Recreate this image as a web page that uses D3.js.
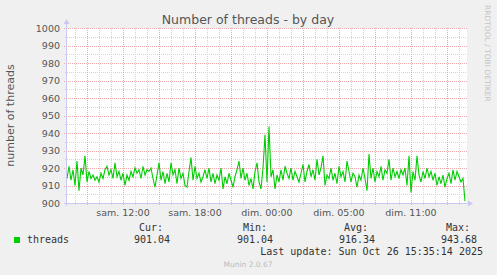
<!DOCTYPE html>
<html>
<head>
<meta charset="utf-8">
<script src="https://cdn.jsdelivr.net/npm/d3@7"></script>
<style>
  html, body { margin: 0; padding: 0; background: #f0f0f0; }
  svg { display: block; }
  text { font-family: "DejaVu Sans", sans-serif; }
  .mono { font-family: "DejaVu Sans Mono", monospace; font-size: 10px; fill: #333; }
</style>
</head>
<body>
<svg id="chart" width="497" height="275" viewBox="0 0 497 275"></svg>
<script>
// Samples every 10 minutes, starting Sat 25 Oct 2025 05:20 UTC
const startTime = Date.UTC(2025, 9, 25, 5, 20);
const endTime = Date.UTC(2025, 9, 26, 14, 40);
const threads = [
  914, 921, 913, 919, 910, 924, 907, 920, 916, 927,
  912, 918, 914, 916, 913, 915, 912, 917, 914, 919,
  921, 916, 919, 914, 923, 915, 918, 913, 917, 910,
  916, 913, 918, 915, 920, 917, 919, 914, 921, 916,
  919, 918, 920, 914, 909, 916, 923, 913, 918, 911,
  917, 912, 923, 916, 919, 911, 920, 914, 917, 910,
  909, 918, 926, 913, 921, 914, 917, 912, 915, 919,
  914, 920, 912, 917, 911, 916, 913, 920, 908, 915,
  911, 917, 913, 909, 915, 919, 924, 914, 920, 913,
  917, 910, 914, 908, 918, 923, 912, 908, 920, 939,
  912, 943.68, 915, 919, 908, 916, 912, 919, 913, 921,
  917, 914, 920, 913, 918, 915, 912, 917, 922, 912,
  918, 922, 915, 919, 913, 925, 916, 920, 927, 910,
  916, 914, 920, 913, 917, 911, 921, 915, 918, 912,
  924, 918, 912, 917, 915, 909, 916, 913, 920, 914,
  907, 928, 914, 920, 912, 918, 915, 921, 913, 919,
  917, 925, 913, 920, 915, 918, 914, 919, 916, 920,
  910, 927, 906, 918, 913, 927, 916, 912, 918, 914,
  920, 915, 918, 913, 917, 910, 915, 911, 916, 909,
  914, 917, 911, 919, 913, 918, 915, 912, 914, 901.04
];
const xLabelTimes = [
  Date.UTC(2025, 9, 25, 10), Date.UTC(2025, 9, 25, 16), Date.UTC(2025, 9, 25, 22),
  Date.UTC(2025, 9, 26, 4), Date.UTC(2025, 9, 26, 10)
];
const xLabels = ["sam. 12:00", "sam. 18:00", "dim. 00:00", "dim. 05:00", "dim. 11:00"];
const yTicks = [900, 910, 920, 930, 940, 950, 960, 970, 980, 990, 1000];
const statNames = ["Cur:", "Min:", "Avg:", "Max:"];
const statValues = ["901.04", "901.04", "916.34", "943.68"];

const svg = d3.select("#chart");
const margin = { top: 28, left: 67 }, plotWidth = 400, plotHeight = 175;

const x = d3.scaleUtc().domain([startTime, endTime]).range([margin.left, margin.left + plotWidth]);
const y = d3.scaleLinear().domain([900, 1000]).range([margin.top + plotHeight, margin.top]);

// Plot background
svg.append("rect")
  .attr("x", margin.left).attr("y", margin.top)
  .attr("width", plotWidth).attr("height", plotHeight)
  .attr("fill", "#fff");

const grid = svg.append("g").attr("shape-rendering", "crispEdges");

// Minor grid
const hours = d3.utcHour.range(startTime, endTime);
grid.selectAll(".vmin").data(hours).join("line")
  .attr("x1", d => Math.round(x(d)) + 0.5).attr("x2", d => Math.round(x(d)) + 0.5)
  .attr("y1", margin.top).attr("y2", margin.top + plotHeight + 2)
  .attr("stroke", "#d4d4d4").attr("stroke-dasharray", "1,1");
const halfTicks = d3.range(905, 1000, 10);
grid.selectAll(".hmin").data(halfTicks).join("line")
  .attr("x1", margin.left - 2).attr("x2", margin.left + plotWidth)
  .attr("y1", d => Math.round(y(d)) + 0.5).attr("y2", d => Math.round(y(d)) + 0.5)
  .attr("stroke", "#d4d4d4").attr("stroke-dasharray", "1,1");

// Major grid
const majors = hours.filter(d => d.getUTCHours() % 3 === 1);
grid.selectAll(".vmaj").data(majors).join("line")
  .attr("x1", d => Math.round(x(d)) + 0.5).attr("x2", d => Math.round(x(d)) + 0.5)
  .attr("y1", margin.top).attr("y2", margin.top + plotHeight + 3)
  .attr("stroke", "#eeaaaa").attr("stroke-dasharray", "1,1");
grid.selectAll(".hmaj").data(yTicks.slice(1)).join("line")
  .attr("x1", margin.left - 3).attr("x2", margin.left + plotWidth)
  .attr("y1", d => Math.round(y(d)) + 0.5).attr("y2", d => Math.round(y(d)) + 0.5)
  .attr("stroke", "#eeaaaa").attr("stroke-dasharray", "1,1");

// Y tick labels
svg.selectAll(".ylab").data(yTicks).join("text")
  .attr("x", margin.left - 7).attr("y", d => y(d) + 3.5)
  .attr("text-anchor", "end").attr("font-size", "9.5px").attr("fill", "#555")
  .text(d => d);

// X tick labels
svg.selectAll(".xlab").data(xLabelTimes).join("text")
  .attr("x", d => x(d)).attr("y", 216)
  .attr("text-anchor", "middle").attr("font-size", "9.5px").attr("fill", "#555")
  .text((d, i) => xLabels[i]);

// Data line
const line = d3.line()
  .x((d, i) => x(startTime + i * 600000))
  .y(d => y(d));
svg.append("path").datum(threads)
  .attr("d", line).attr("fill", "none")
  .attr("stroke", "#00cc00").attr("stroke-width", 1.1);

// Axes
const axisColor = "#c8c8f0";
svg.append("line")
  .attr("x1", margin.left - 3).attr("x2", margin.left + plotWidth + 2)
  .attr("y1", margin.top + plotHeight + 0.5).attr("y2", margin.top + plotHeight + 0.5)
  .attr("stroke", axisColor).attr("shape-rendering", "crispEdges");
svg.append("line")
  .attr("x1", margin.left - 0.5).attr("x2", margin.left - 0.5)
  .attr("y1", margin.top - 5).attr("y2", margin.top + plotHeight + 3)
  .attr("stroke", axisColor).attr("shape-rendering", "crispEdges");
svg.append("path")
  .attr("d", `M${margin.left + plotWidth + 6},${margin.top + plotHeight + 0.5} l-5,-3 v6 z`)
  .attr("fill", axisColor);
svg.append("path")
  .attr("d", `M${margin.left - 0.5},${margin.top - 9} l-3,5 h6 z`)
  .attr("fill", axisColor);

// Title and labels
svg.append("text")
  .attr("x", 248).attr("y", 23.5).attr("text-anchor", "middle")
  .attr("font-size", "12.5px").attr("fill", "#555")
  .text("Number of threads - by day");
svg.append("text")
  .attr("transform", `translate(13.5,${margin.top + plotHeight / 2}) rotate(-90)`)
  .attr("text-anchor", "middle").attr("font-size", "11px").attr("fill", "#555")
  .text("number of threads");
svg.append("text")
  .attr("transform", "translate(485,5) rotate(90)")
  .attr("font-size", "7.5px").attr("fill", "#c4c4c4")
  .text("RRDTOOL / TOBI OETIKER");

// Legend
svg.append("rect")
  .attr("x", 14).attr("y", 237).attr("width", 6).attr("height", 6)
  .attr("fill", "#00cc00");
svg.append("text").attr("class", "mono")
  .attr("x", 27).attr("y", 243).text("threads");
const statRight = [163, 267, 368, 470];
const valueRight = [170, 273, 375, 477];
svg.selectAll(".sname").data(statNames).join("text")
  .attr("class", "mono").attr("text-anchor", "end")
  .attr("x", (d, i) => statRight[i]).attr("y", 231)
  .text(d => d);
svg.selectAll(".sval").data(statValues).join("text")
  .attr("class", "mono").attr("text-anchor", "end")
  .attr("x", (d, i) => valueRight[i]).attr("y", 243)
  .text(d => d);
svg.append("text").attr("class", "mono")
  .attr("x", 483).attr("y", 255).attr("text-anchor", "end")
  .text("Last update: Sun Oct 26 15:35:14 2025");
svg.append("text")
  .attr("x", 248).attr("y", 267).attr("text-anchor", "middle")
  .attr("font-size", "7.5px").attr("fill", "#bbb")
  .text("Munin 2.0.67");
</script>
</body>
</html>
